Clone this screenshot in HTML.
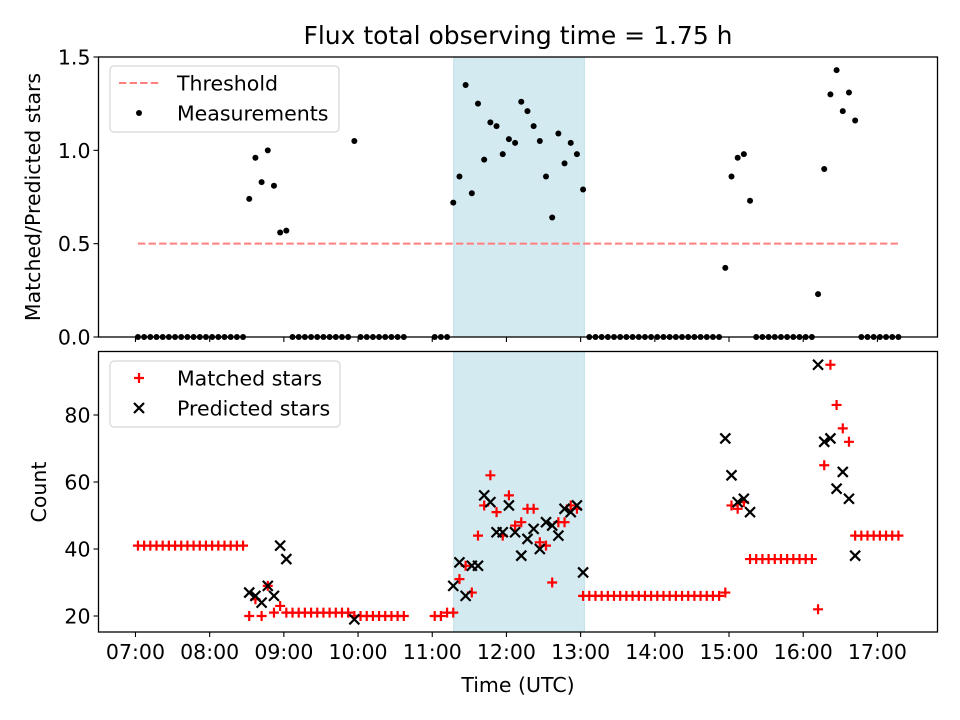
<!DOCTYPE html>
<html><head><meta charset="utf-8"><style>
html,body{margin:0;padding:0;background:#fff;}
svg{display:block;font-family:"DejaVu Sans","Liberation Sans",sans-serif;}
</style></head><body>
<svg id="chart" width="960" height="720" viewBox="0 0 960 720" xmlns="http://www.w3.org/2000/svg">
<text x="518" y="44" font-size="25" text-anchor="middle">Flux total observing time = 1.75 h</text>
<g id="topPanel"></g>
<g id="botPanel"></g>
<text x="518" y="692" font-size="20.5" text-anchor="middle">Time (UTC)</text>
<text transform="translate(40,197) rotate(-90)" font-size="20.5" text-anchor="middle">Matched/Predicted stars</text>
<text transform="translate(46,492) rotate(-90)" font-size="20.5" text-anchor="middle">Count</text>
</svg>
<script>
// Segments: start minute after 07:00, 5-minute cadence
const segStart = [2, 92, 127, 177, 182, 242, 257, 367, 477, 502, 552, 587];
const segRatio = [
 [0,0,0,0,0,0,0,0,0,0,0,0,0,0,0,0,0,0],
 [0.74,0.96,0.83,1.00,0.81,0.56,0.57],
 [0,0,0,0,0,0,0,0,0,0],
 [1.05],
 [0,0,0,0,0,0,0,0],
 [0,0,0],
 [0.72,0.86,1.35,0.77,1.25,0.95,1.15,1.13,0.98,1.06,1.04,1.26,1.21,1.13,1.05,0.86,0.64,1.09,0.93,1.04,0.98,0.79],
 [0,0,0,0,0,0,0,0,0,0,0,0,0,0,0,0,0,0,0,0,0,0],
 [0.37,0.86,0.96,0.98,0.73],
 [0,0,0,0,0,0,0,0,0,0],
 [0.23,0.90,1.30,1.43,1.21,1.31,1.16],
 [0,0,0,0,0,0,0]
];
const segMatched = [
 [41,41,41,41,41,41,41,41,41,41,41,41,41,41,41,41,41,41],
 [20,25,20,29,21,23,21],
 [21,21,21,21,21,21,21,21,21,21],
 [20],
 [20,20,20,20,20,20,20,20],
 [20,20,21],
 [21,31,35,27,44,53,62,51,44,56,47,48,52,52,42,41,30,48,48,53,52,26],
 [26,26,26,26,26,26,26,26,26,26,26,26,26,26,26,26,26,26,26,26,26,26],
 [27,53,52,54,37],
 [37,37,37,37,37,37,37,37,37,37],
 [22,65,95,83,76,72,44],
 [44,44,44,44,44,44,44]
];
const segPredicted = [
 [], [27,26,24,29,26,41,37], [], [19], [], [],
 [29,36,26,35,35,56,54,45,45,53,45,38,43,46,40,48,47,44,52,51,53,33],
 [], [73,62,54,55,51], [], [95,72,73,58,63,55,38], []
];
const xTickMinutes = [0,60,120,180,240,300,360,420,480,540,600];
const xTickLabels = ["07:00","08:00","09:00","10:00","11:00","12:00","13:00","14:00","15:00","16:00","17:00"];
const topTicks = [0.0,0.5,1.0,1.5];
const topTickLabels = ["0.0","0.5","1.0","1.5"];
const botTicks = [20,40,60,80];
const botTickLabels = ["20","40","60","80"];
const threshold = [0.5];
const shadeSpan = [257.4, 363];

const NS="http://www.w3.org/2000/svg";
const FS=20.5;
const L=98.5,R=937.5;
const xMin=-29.9,xMax=648.6;
const X=m=>L+(m-xMin)/(xMax-xMin)*(R-L);
const TP={top:57,bot:337,min:0,max:1.5};
const BP={top:351.5,bot:632};
const YT=v=>TP.bot-(v-TP.min)/(TP.max-TP.min)*(TP.bot-TP.top);
const YB=v=>616-(v-20)*(201/60);
function el(tag,attrs,parent){const e=document.createElementNS(NS,tag);for(const k in attrs)e.setAttribute(k,attrs[k]);parent.appendChild(e);return e;}
const topG=document.getElementById('topPanel'), botG=document.getElementById('botPanel');
const times=[],ratio=[],matched=[],pred=[];
segStart.forEach((s,i)=>{segRatio[i].forEach((v,j)=>{times.push(s+5*j);ratio.push(v);matched.push(segMatched[i][j]);pred.push(segPredicted[i].length?segPredicted[i][j]:null);});});

[[topG,TP.top,TP.bot],[botG,BP.top,BP.bot]].forEach(([g,t,b])=>{
  const sh=el('rect',{x:X(shadeSpan[0]),y:t,width:X(shadeSpan[1])-X(shadeSpan[0]),height:b-t,fill:'#d4eaf1',stroke:'#bcdce7','stroke-width':1},g);
  
  
});
const th=el('line',{x1:X(times[0]),x2:X(times[times.length-1]),y1:YT(threshold[0]),y2:YT(threshold[0]),stroke:'#ff7f7f','stroke-width':2,'stroke-dasharray':'7.4,3.2'},topG);


times.forEach((m,i)=>{
  const c=el('circle',{cx:X(m),cy:YT(ratio[i]),r:3,fill:'#000'},topG);
  
  
});
const defs=el('defs',{},botG);
const cp=el('clipPath',{id:'cb'},defs);el('rect',{x:L,y:BP.top,width:R-L,height:BP.bot-BP.top},cp);
const mg=el('g',{'clip-path':'url(#cb)'},botG);
times.forEach((m,i)=>{
  const x=X(m),y=YB(matched[i]);
  const p=el('path',{d:`M${x-5},${y}H${x+5}M${x},${y-5}V${y+5}`,stroke:'#ff0000','stroke-width':2.2,fill:'none'},mg);
  
  
});
times.forEach((m,i)=>{
  if(pred[i]==null)return;
  const x=X(m),y=YB(pred[i]);
  const p=el('path',{d:`M${x-5},${y-5}L${x+5},${y+5}M${x-5},${y+5}L${x+5},${y-5}`,stroke:'#000','stroke-width':2.2,fill:'none'},mg);
  
  
});
[[topG,TP.top,TP.bot,topTicks,topTickLabels,YT],[botG,BP.top,BP.bot,botTicks,botTickLabels,YB]].forEach(([g,t,b,tk,tl,Y],pi)=>{
  const f=el('rect',{x:L,y:t,width:R-L,height:b-t,fill:'none',stroke:'#000','stroke-width':1.3},g);
  
  
  tk.forEach((v,i)=>{
    el('line',{x1:L-5,x2:L,y1:Y(v),y2:Y(v),stroke:'#000','stroke-width':1.1},g);
    const tx=el('text',{x:L-8,y:Y(v)+7.5,'font-size':FS,'text-anchor':'end'},g);
    tx.textContent=tl[i];
    
    
  });
  xTickMinutes.forEach((m,i)=>{
    el('line',{x1:X(m),x2:X(m),y1:b,y2:b+5,stroke:'#000','stroke-width':1.1},g);
    if(pi===1){
      const tx=el('text',{x:X(m),y:b+27,'font-size':FS,'text-anchor':'middle'},g);
      tx.textContent=xTickLabels[i];
      
      
    }
  });
});
function legend(g,y0,entries,w){
  const lg=el('g',{},g);
  
  
  el('rect',{x:110,y:y0,width:w,height:66,rx:4,fill:'#fff','fill-opacity':0.8,stroke:'#d6d6d6','stroke-width':1.2},lg);
  entries.forEach((e,i)=>{
    const cy=y0+17+i*30;
    if(e[0]==='dash')el('line',{x1:119,x2:160,y1:cy,y2:cy,stroke:'#ff7f7f','stroke-width':2,'stroke-dasharray':'7.4,3.2'},lg);
    if(e[0]==='dot')el('circle',{cx:139,cy:cy,r:3,fill:'#000'},lg);
    if(e[0]==='plus')el('path',{d:`M134,${cy}H144M139,${cy-5}V${cy+5}`,stroke:'#f00','stroke-width':2.2},lg);
    if(e[0]==='x')el('path',{d:`M134,${cy-5}L144,${cy+5}M134,${cy+5}L144,${cy-5}`,stroke:'#000','stroke-width':2.2},lg);
    const t=el('text',{x:177,y:cy+7.5,'font-size':FS},lg);
    t.textContent=e[1];
    
    
  });
}
legend(topG,66,[['dash','Threshold'],['dot','Measurements']],229);
legend(botG,361,[['plus','Matched stars'],['x','Predicted stars']],230);
</script>
</body></html>
